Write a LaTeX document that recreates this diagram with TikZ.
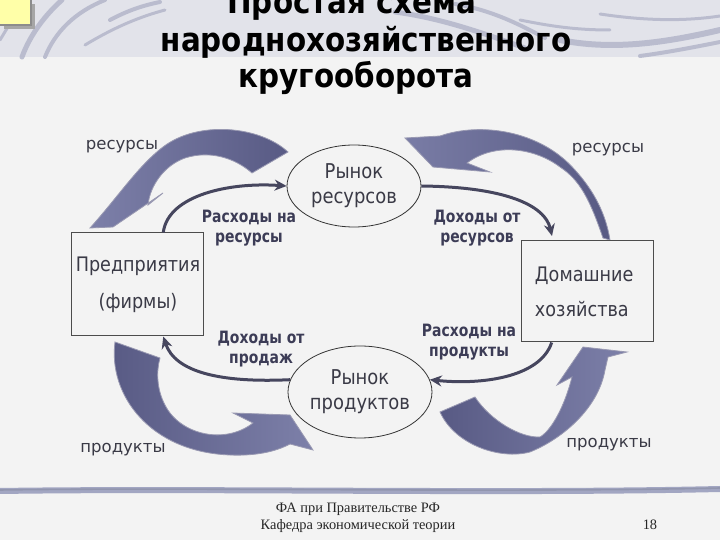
\documentclass[tikz,border=0pt]{standalone}
\usepackage{fontspec}
\setmainfont{DejaVu Sans}
\newfontfamily\titlef[FakeStretch=0.89]{DejaVu Sans}
\newfontfamily\boxf[FakeStretch=0.88]{DejaVu Sans}
\newfontfamily\blab[FakeStretch=0.82]{DejaVu Sans}
\newfontfamily\footf{Liberation Serif}
\usetikzlibrary{arrows.meta,shapes.geometric,calc}
\definecolor{bgc}{HTML}{F3F3F3}
\definecolor{banner}{HTML}{E2E3EA}
\definecolor{swoosh}{HTML}{B3B6CA}
\definecolor{blockA}{HTML}{585A84}
\definecolor{blockB}{HTML}{7D80A9}
\definecolor{thin}{HTML}{46465E}
\definecolor{txt}{HTML}{3A3A46}
\definecolor{btxt}{HTML}{3C3C56}
\definecolor{rulec}{HTML}{A2A6C2}
\definecolor{yel}{HTML}{FFFFA8}
\begin{document}
\begin{tikzpicture}[x=0.5pt,y=-0.5pt,
  titlestyle/.style={font={\titlef\fontsize{16.5}{18.5}\selectfont\bfseries}, text=black, inner sep=0pt, anchor=base},
  lab/.style={font={\fontsize{8.25}{10}\selectfont}, text=txt, inner sep=0pt, anchor=base},
  blabel/.style={font={\blab\fontsize{8.5}{10}\selectfont\bfseries}, text=btxt, align=center, inner sep=0pt},
  firmbox/.style={draw=black!70, line width=0.5pt, fill=bgc, minimum width=66pt, minimum height=51.5pt, align=center, inner sep=0pt, font={\boxf\fontsize{10}{18.5}\selectfont}, text=txt},
  homebox/.style={draw=black!70, line width=0.5pt, fill=bgc, minimum width=66pt, minimum height=50.5pt, text width=53pt, align=left, inner xsep=6.5pt, inner ysep=0pt, font={\boxf\fontsize{10}{17.5}\selectfont}, text=txt},
  market/.style={ellipse, draw=black!80, line width=0.4pt, inner sep=0pt, align=center, font={\boxf\fontsize{10.2}{12.5}\selectfont}, text=txt},
  thinarrow/.style={draw=thin, line width=1.5pt, -{Stealth[length=6pt,width=5.5pt]}},
  blockarrow/.style={draw=black!75!blue!40, line width=0.4pt},
  swo/.style={draw=swoosh, line cap=round, opacity=0.85},
  foot/.style={font={\footf\fontsize{7.2}{8}\selectfont}, text=black!85, inner sep=0pt, anchor=base}
]
\useasboundingbox (0,0) rectangle (720,540);
% background
\fill[bgc] (0,0) rectangle (720,540);
\fill[banner] (0,0) rectangle (720,57);
% banner swooshes
\draw[swo, line width=2.5pt] (22,57) .. controls (30,35) and (45,15) .. (62,0);
\draw[swo, line width=2pt] (45,57) .. controls (55,32) and (75,12) .. (105,0);
\draw[swo, line width=1.5pt] (85,45) .. controls (110,30) and (135,18) .. (165,10);
\draw[swo, line width=2pt] (110,20) .. controls (125,12) and (140,6) .. (160,2);
\draw[swo, line width=1.5pt] (0,40) .. controls (6,30) and (12,20) .. (18,12);
\draw[swo, line width=2.5pt] (395,12) .. controls (440,18) and (480,32) .. (525,48);
\draw[swo, line width=2pt] (455,4) .. controls (490,10) and (515,22) .. (545,38);
\draw[swo, line width=1.5pt] (520,20) .. controls (550,26) and (575,30) .. (610,30);
\draw[swo, line width=3pt] (560,40) .. controls (610,50) and (660,44) .. (720,30);
\draw[swo, line width=2pt] (640,56) .. controls (670,52) and (700,46) .. (720,42);
\draw[swo, line width=1.5pt] (600,14) .. controls (640,20) and (680,22) .. (720,16);
% yellow box
\fill[black!35] (4,4) rectangle (35,29);
\draw[fill=yel, draw=black!45, line width=0.8pt] (-2,-2) rectangle (31,25);
% title
\node[titlestyle] (t1) at (352,14) {Простая схема};
\node[titlestyle] (t2) at (366,52) {народнохозяйственного};
\node[titlestyle] (t3) at (356,88) {кругооборота};
% block arrows
\shade[blockarrow, left color=blockB, right color=blockA]
  (288,152) .. controls (260,126) and (198,120) .. (163,147)
  .. controls (138,166) and (118,197) .. (90,228) -- (113,227) -- (163,193) -- (148,205)
  .. controls (150,185) and (165,165) .. (185,158)
  .. controls (210,150) and (235,158) .. (252,173) -- cycle;
\shade[blockarrow, left color=blockB!90!blockA, right color=blockA]
  (405,138) -- (440,136) .. controls (480,122) and (540,130) .. (575,170)
  .. controls (595,192) and (606,215) .. (610,240) -- (603,238)
  .. controls (590,200) and (580,180) .. (560,167)
  .. controls (535,148) and (495,142) .. (467,163) -- (490,172) -- (433,167) -- cycle;
\shade[blockarrow, left color=blockA, right color=blockB]
  (115,342) .. controls (108,395) and (150,452) .. (230,455)
  .. controls (255,456) and (275,452) .. (290,444) -- (313,450) -- (290,415) -- (233,413) -- (253,423)
  .. controls (225,445) and (180,435) .. (165,405)
  .. controls (157,390) and (156,372) .. (160,358) -- cycle;
\shade[blockarrow, left color=blockA, right color=blockB]
  (440,412) .. controls (455,445) and (500,460) .. (530,452)
  .. controls (560,440) and (598,410) .. (605,370) -- (608,357) -- (627,352) -- (583,347) -- (557,385) -- (572,377)
  .. controls (565,405) and (552,430) .. (540,437)
  .. controls (520,438) and (490,420) .. (475,397) -- cycle;
% nodes
\node[firmbox] (f) at (138,284.5) {Предприятия\\(фирмы)};
\node[homebox] (h) at (588,291.5) {Домашние\\хозяйства};
\node[market, minimum width=67pt, minimum height=41pt] (rr) at (354,186) {Рынок\\ресурсов};
\node[market, minimum width=72pt, minimum height=46pt] (rp) at (360,392) {Рынок\\продуктов};
% labels
\node[lab] (l1) at (122,150) {ресурсы};
\node[lab] (l2) at (608,153) {ресурсы};
\node[lab] (l3) at (123,453) {продукты};
\node[lab] (l4) at (609,448) {продукты};
\node[blabel] (b1) at (249,228) {Расходы на\\ресурсы};
\node[blabel] (b2) at (477,228) {Доходы от\\ресурсов};
\node[blabel] (b3) at (261,349) {Доходы от\\продаж};
\node[blabel] (b4) at (469,342) {Расходы на\\продукты};
% thin connectors
\coordinate (s1) at ($(f.north west)!0.69!(f.north east)$);
\coordinate (s4) at ($(f.south west)!0.69!(f.south east)$);
\coordinate (s3) at ($(h.south west)!0.227!(h.south east)$);
\coordinate (e2) at (552,236);
\draw[thinarrow] (s1) .. controls (168,195) and (230,182) .. (rr.west);
\draw[thinarrow] (rr.east) .. controls (505,187) and (545,205) .. (e2);
\draw[thinarrow] (s3) .. controls (540,378) and (480,385) .. (rp.10);
\draw[thinarrow] (rp.170) .. controls (220,383) and (175,372) .. (s4);
% bottom rule
\draw[draw=rulec, line width=3pt, line cap=round] (0,491) .. controls (200,488) and (500,494) .. (720,489);
\draw[draw=rulec!80!black, line width=0.8pt, opacity=0.5] (0,490) .. controls (200,487) and (500,493) .. (720,488);
% footer
\node[foot] (ft1) at (358,513) {ФА при Правительстве РФ};
\node[foot] (ft2) at (358,530) {Кафедра экономической теории};
\node[foot] (pg) at (650,530) {18};
\end{tikzpicture}
\end{document}
